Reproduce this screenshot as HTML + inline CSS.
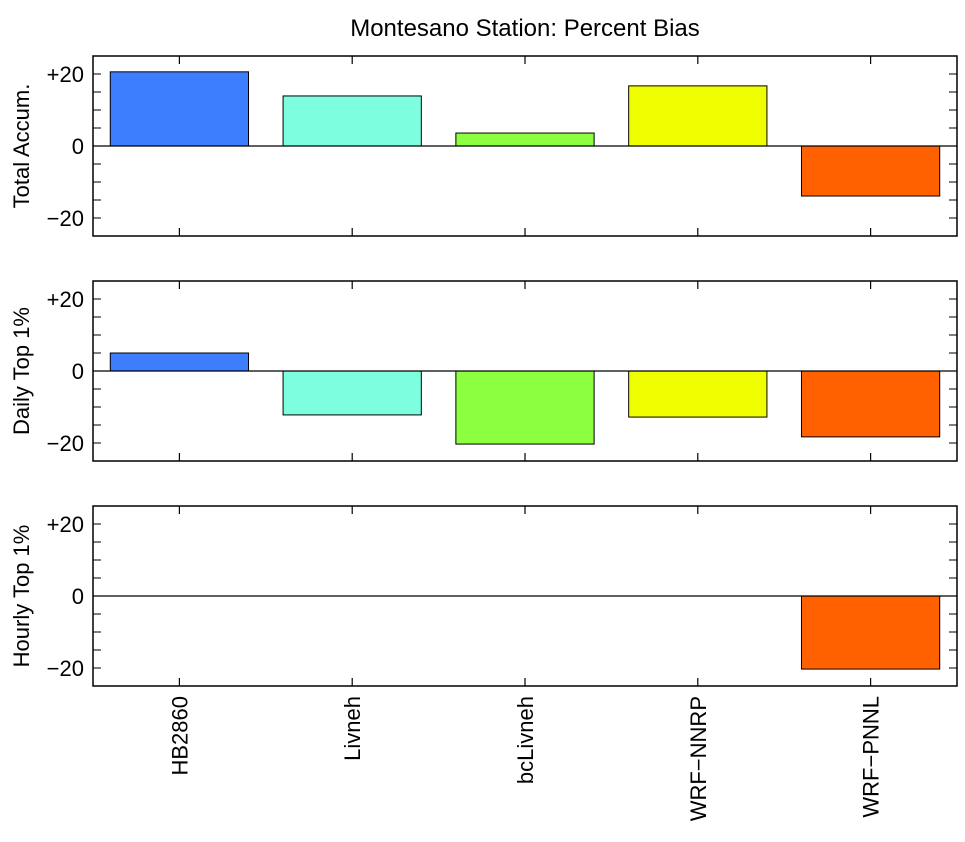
<!DOCTYPE html>
<html><head><meta charset="utf-8"><style>body{margin:0;background:#fff}svg{display:block}</style></head>
<body>
<svg id="chart" width="965" height="842" xmlns="http://www.w3.org/2000/svg" font-family="Liberation Sans, sans-serif">
<text x="525" y="36" font-size="24" text-anchor="middle">Montesano Station: Percent Bias</text>
</svg>
<script>
const categories = ["HB2860","Livneh","bcLivneh","WRF\u2212NNRP","WRF\u2212PNNL"];
const colors = ["#3d7eff","#7dffdf","#8cff40","#f0ff00","#ff6000"];
const panelLabels = ["Total Accum.","Daily Top 1%","Hourly Top 1%"];
const totalAccum = [20.6, 13.9, 3.6, 16.7, -13.9];
const dailyTop = [5.0, -12.2, -20.3, -12.8, -18.3];
const hourlyTop = [0, 0, 0, 0, -20.3];
const series = [totalAccum, dailyTop, hourlyTop];
const yTickLabels = ["\u221220","0","+20"];
const yTickValues = [-20,0,20];

const svg = document.getElementById('chart');
const NS = 'http://www.w3.org/2000/svg';
const X0 = 93, X1 = 957, PH = 180, tops = [56, 281, 506];
const band = (X1 - X0) / categories.length;
const xc = i => X0 + band * (i + 0.5);
function mk(tag, attrs, parent) {
  const e = document.createElementNS(NS, tag);
  for (const k in attrs) e.setAttribute(k, attrs[k]);
  (parent || svg).appendChild(e);
  return e;
}
series.forEach((vals, p) => {
  const top = tops[p];
  const y = v => top + PH / 2 - v * (PH / 50);
  const g = mk('g', {});
  
  
  vals.forEach((v, i) => {
    const w = band * 0.8;
    const r = mk('rect', {x: xc(i) - w / 2, y: Math.min(y(v), y(0)), width: w, height: Math.abs(y(v) - y(0)), fill: colors[i], stroke: '#000', 'stroke-width': 1}, g);
    
    
  });
  mk('line', {x1: X0, x2: X1, y1: y(0), y2: y(0), stroke: '#000', 'stroke-width': 1.2}, g);
  for (let v = -25; v <= 25; v += 5) {
    mk('line', {x1: X0, x2: X0 + 8, y1: y(v), y2: y(v), stroke: '#000', 'stroke-width': 1}, g);
    mk('line', {x1: X1 - 8, x2: X1, y1: y(v), y2: y(v), stroke: '#000', 'stroke-width': 1}, g);
  }
  categories.forEach((c, i) => {
    mk('line', {x1: xc(i), x2: xc(i), y1: top, y2: top + 8, stroke: '#000', 'stroke-width': 1.2}, g);
    mk('line', {x1: xc(i), x2: xc(i), y1: top + PH, y2: top + PH - 8, stroke: '#000', 'stroke-width': 1.2}, g);
  });
  yTickValues.forEach((v, k) => {
    const t = mk('text', {x: 84, y: y(v) + 8, 'font-size': 22, 'text-anchor': 'end'}, g);
    t.textContent = yTickLabels[k];
    
    
  });
  mk('rect', {x: X0, y: top, width: X1 - X0, height: PH, fill: 'none', stroke: '#000', 'stroke-width': 1.5}, g);
  const lbl = mk('text', {x: 0, y: 0, 'font-size': 22, 'text-anchor': 'middle', transform: 'translate(29,' + (top + PH / 2) + ') rotate(-90)'}, g);
  lbl.textContent = panelLabels[p];
  
  
});
categories.forEach((c, i) => {
  const t = mk('text', {x: 0, y: 0, 'font-size': 22, 'text-anchor': 'end', transform: 'translate(' + (xc(i) + 8) + ',696) rotate(-90)'});
  t.textContent = c;
  
  
});
</script>
</body></html>
